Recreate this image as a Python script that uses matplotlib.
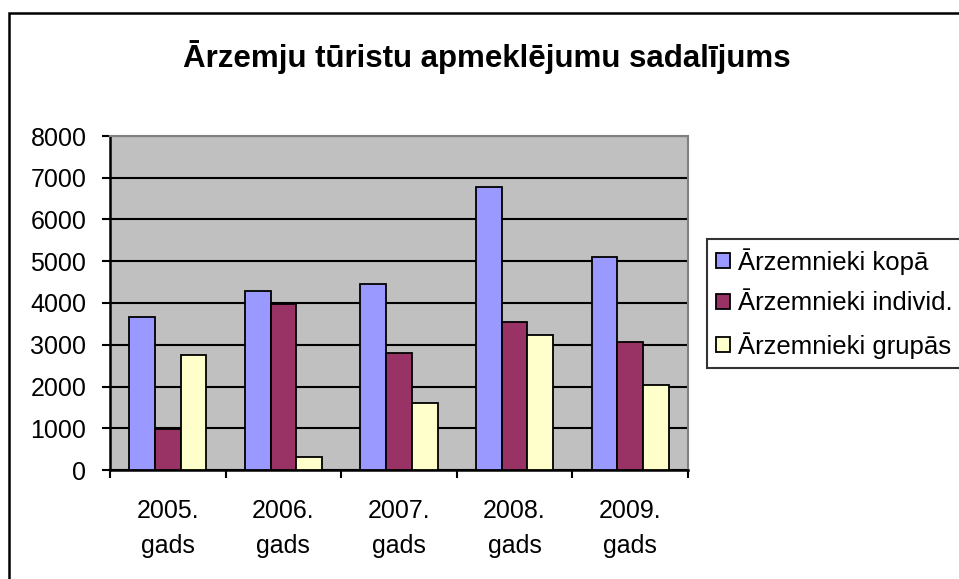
import numpy as np
import matplotlib.pyplot as plt
from matplotlib.patches import Rectangle

plt.rcParams['font.family'] = ['Liberation Sans', 'DejaVu Sans']

years = ['2005.\ngads', '2006.\ngads', '2007.\ngads', '2008.\ngads', '2009.\ngads']
kopa = [3670, 4290, 4445, 6780, 5110]
individ = [980, 3970, 2810, 3535, 3060]
grupas = [2760, 320, 1610, 3240, 2045]

series = ['Ārzemnieki kopā', 'Ārzemnieki individ.', 'Ārzemnieki grupās']
colors = ['#9999FF', '#993366', '#FFFFCC']

W, H = 959, 579
fig = plt.figure(figsize=(W / 100, H / 100), dpi=100)
ax = fig.add_axes([110 / W, (H - 470) / H, (688 - 110) / W, (470 - 136) / H])
ax.set_facecolor('#C0C0C0')

x = np.arange(len(years))
bw = 1 / 4.5
for i, (vals, lab, c) in enumerate(zip([kopa, individ, grupas], series, colors)):
    ax.bar(x + (i - 1) * bw, vals, bw, color=c, edgecolor='black', linewidth=1.3,
           label=lab, zorder=3)

ax.set_xlim(-0.5, len(years) - 0.5)
ax.set_ylim(0, 8000)
ax.set_yticks(range(0, 8001, 1000))
ax.yaxis.grid(True, color='black', linewidth=1.5, zorder=0)
ax.set_axisbelow(True)

ax.set_xticks(np.arange(len(years) + 1) - 0.5)
ax.set_xticklabels([])
ax.set_xticks(x, minor=True)
ax.set_xticklabels(years, minor=True, linespacing=1.55)
ax.tick_params(axis='x', which='major', direction='out', length=6, width=1.5)
ax.tick_params(axis='x', which='minor', length=0, pad=21, labelsize=18)
ax.tick_params(axis='y', direction='out', length=6, width=1.5, labelsize=18, pad=11)

for s in ['left', 'bottom']:
    ax.spines[s].set_linewidth(1.8)
    ax.spines[s].set_color('black')
for s in ['top', 'right']:
    ax.spines[s].set_linewidth(1.5)
    ax.spines[s].set_color('#808080')

fig.text(487 / W, 1 - 57 / H, 'Ārzemju tūristu apmeklējumu sadalījums',
         ha='center', va='center', fontsize=22.5, fontweight='bold')

# legend box runs past the right edge, as in the original
leg = fig.legend(loc='upper left', bbox_to_anchor=(707 / W, 1 - 239 / H, 0.3, 0),
                 mode='expand', fontsize=18.5, frameon=True, fancybox=False,
                 handlelength=0.55, handleheight=0.55, handletextpad=0.3,
                 borderpad=0.35, labelspacing=0.65, borderaxespad=0)
leg.get_frame().set_edgecolor('black')
leg.get_frame().set_linewidth(1.5)

fig.add_artist(Rectangle((9 / W, -0.1), 1.2, 1 - 13 / H + 0.1, transform=fig.transFigure,
                         fill=False, edgecolor='black', linewidth=1.8))

fig.savefig('out.png', dpi=100)
